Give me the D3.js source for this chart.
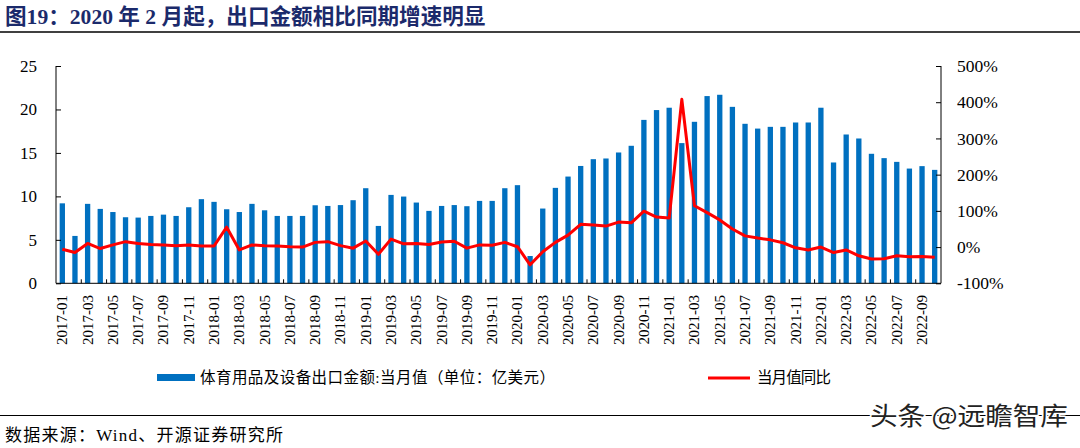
<!DOCTYPE html>
<html><head><meta charset="utf-8">
<script src="https://cdn.jsdelivr.net/npm/d3@7/dist/d3.min.js"></script>
<style>
body{margin:0;background:#fff;}
svg{display:block;}
</style></head>
<body><svg id="c" width="1080" height="448"></svg>
<script>
const months = [];
for (let y = 2017; y <= 2022; y++) {
  const last = y === 2022 ? 10 : 12;
  for (let m = 1; m <= last; m++) months.push(y + "-" + String(m).padStart(2, "0"));
}
const exportValue = [
  9.2,5.45,9.14,8.56,8.2,7.6,7.56,7.75,7.9,7.75,8.75,9.68,
  9.37,8.52,8.2,9.14,8.4,7.75,7.75,7.75,8.98,8.9,9.0,9.56,
  10.94,6.6,10.17,9.98,9.29,8.33,8.9,9.0,8.87,9.48,9.48,10.94,
  11.29,3.14,8.6,10.98,12.28,13.5,14.28,14.36,15.05,15.82,18.8,19.93,
  20.2,16.13,18.58,21.54,21.69,20.3,18.35,17.8,18.0,18.0,18.5,18.5,
  20.2,13.9,17.12,16.66,14.9,14.4,13.97,13.2,13.48,13.05
];
const yoy = [
  -6,-15,10,-4,6,15,10,7,6,4,6,3,
  3,55,-8,6,4,3,1,0,13,15,4,-3,
  17,-20,22,9,10,7,14,16,-3,6,5,13,
  1,-49,-13,13,33,63,61,58,69,67,99,83,
  80,408,114,95,75,50,31,25,20,12,-2,-8,
  0,-15,-8,-24,-33,-32,-24,-27,-26,-28
];
const leftTicks = [0,5,10,15,20,25];
const rightTicks = [-100,0,100,200,300,400,500];
const title = "图19：2020 年 2 月起，出口金额相比同期增速明显";
const legendBar = "体育用品及设备出口金额:当月值（单位：亿美元）";
const legendLine = "当月值同比";
const source = "数据来源：Wind、开源证券研究所";
const watermark = "头条 @远瞻智库";

const svg = d3.select("#c");
const L = 56, R = 941, T = 66, B = 283.3;
const serif = "'Liberation Serif','Times New Roman','Noto Serif CJK SC','Noto Sans CJK SC',serif";
const cjk = "'Liberation Serif','Noto Sans CJK SC',serif";

const x = d3.scaleBand().domain(months).range([L, R]).paddingInner(0.58).paddingOuter(0.29);
const yL = d3.scaleLinear().domain([0, 25]).range([B, T]);
const yR = d3.scaleLinear().domain([-100, 500]).range([B, T]);

// title
svg.append("text").attr("x", 5).attr("y", 24).attr("fill", "#1b2a6b")
  .attr("font-family", cjk).attr("font-weight", "bold").attr("font-size", 21.6)
  .text(title);
svg.append("line").attr("x1", 0).attr("x2", 1080).attr("y1", 32).attr("y2", 32)
  .attr("stroke", "#000").attr("stroke-width", 1.5);

// bars
svg.append("g").selectAll("rect").data(exportValue).join("rect")
  .attr("x", (d, i) => x(months[i]))
  .attr("width", x.bandwidth())
  .attr("y", d => yL(d))
  .attr("height", d => yL(0) - yL(d))
  .attr("fill", "#0070C0");

// line
const line = d3.line().x((d, i) => x(months[i]) + x.bandwidth() / 2).y(d => yR(d));
svg.append("path").datum(yoy).attr("d", line).attr("fill", "none")
  .attr("stroke", "#FF0000").attr("stroke-width", 3).attr("stroke-linejoin", "round");

// left axis
const gl = svg.append("g").attr("transform", `translate(${L},0)`)
  .call(d3.axisRight(yL).tickValues(leftTicks).tickSize(5).tickFormat(""));
gl.selectAll("path,line").attr("stroke", "#000").attr("stroke-width", 1);
gl.select(".domain").attr("d", `M0,${T}V${B}`);
svg.append("g").selectAll("text").data(leftTicks).join("text")
  .attr("x", 37).attr("y", d => yL(d)).attr("dy", "0.35em").attr("text-anchor", "end")
  .attr("font-family", serif).attr("font-size", 17).attr("fill", "#000").text(d => d);

// right axis
const gr = svg.append("g").attr("transform", `translate(${R},0)`)
  .call(d3.axisLeft(yR).tickValues(rightTicks).tickSize(5).tickFormat(""));
gr.selectAll("path,line").attr("stroke", "#000").attr("stroke-width", 1);
gr.select(".domain").attr("d", `M0,${T}V${B}`);
svg.append("g").selectAll("text").data(rightTicks).join("text")
  .attr("x", 957).attr("y", d => yR(d)).attr("dy", "0.35em").attr("text-anchor", "start")
  .attr("font-family", serif).attr("font-size", 17.5).attr("fill", "#000").text(d => d + "%");

// x axis
svg.append("line").attr("x1", L).attr("x2", R).attr("y1", B).attr("y2", B)
  .attr("stroke", "#000").attr("stroke-width", 1);
const step = x.step();
const tickIdx = d3.range(2, months.length, 2);
svg.append("g").selectAll("line").data(tickIdx).join("line")
  .attr("x1", i => x(months[i]) - x.paddingInner() * step / 2)
  .attr("x2", i => x(months[i]) - x.paddingInner() * step / 2)
  .attr("y1", B).attr("y2", B - 4).attr("stroke", "#000");
svg.append("g").selectAll("text").data(months.filter((d, i) => i % 2 === 0)).join("text")
  .attr("transform", d => `translate(${x(d) + x.bandwidth() / 2 + 5},295) rotate(-90)`)
  .attr("text-anchor", "end").attr("font-family", serif).attr("font-size", 15)
  .attr("fill", "#000").text(d => d);

// legend
svg.append("rect").attr("x", 157).attr("y", 374).attr("width", 38).attr("height", 7).attr("fill", "#0070C0");
svg.append("text").attr("x", 200).attr("y", 383).attr("font-family", cjk).attr("font-size", 15.5)
  .attr("textLength", 355).attr("lengthAdjust", "spacing")
  .attr("fill", "#000").text(legendBar);
svg.append("line").attr("x1", 708).attr("x2", 750).attr("y1", 378).attr("y2", 378)
  .attr("stroke", "#FF0000").attr("stroke-width", 3);
svg.append("text").attr("x", 757).attr("y", 383).attr("font-family", cjk).attr("font-size", 15.5)
  .attr("textLength", 74).attr("lengthAdjust", "spacing")
  .attr("fill", "#000").text(legendLine);

// footer
svg.append("line").attr("x1", 0).attr("x2", 1080).attr("y1", 415.5).attr("y2", 415.5)
  .attr("stroke", "#000").attr("stroke-width", 1.2);
svg.append("text").attr("x", 5).attr("y", 441).attr("font-family", cjk).attr("font-size", 17)
  .attr("textLength", 278).attr("lengthAdjust", "spacing")
  .attr("fill", "#000").text(source);
svg.append("text").attr("x", 870).attr("y", 425).attr("font-family", "'Noto Sans CJK SC',sans-serif")
  .attr("font-size", 25).attr("textLength", 198).attr("lengthAdjust", "spacingAndGlyphs")
  .attr("fill", "#222").attr("stroke", "#fff").attr("stroke-width", 3)
  .attr("paint-order", "stroke").attr("stroke-linejoin", "round")
  .text(watermark);
</script></body></html>
